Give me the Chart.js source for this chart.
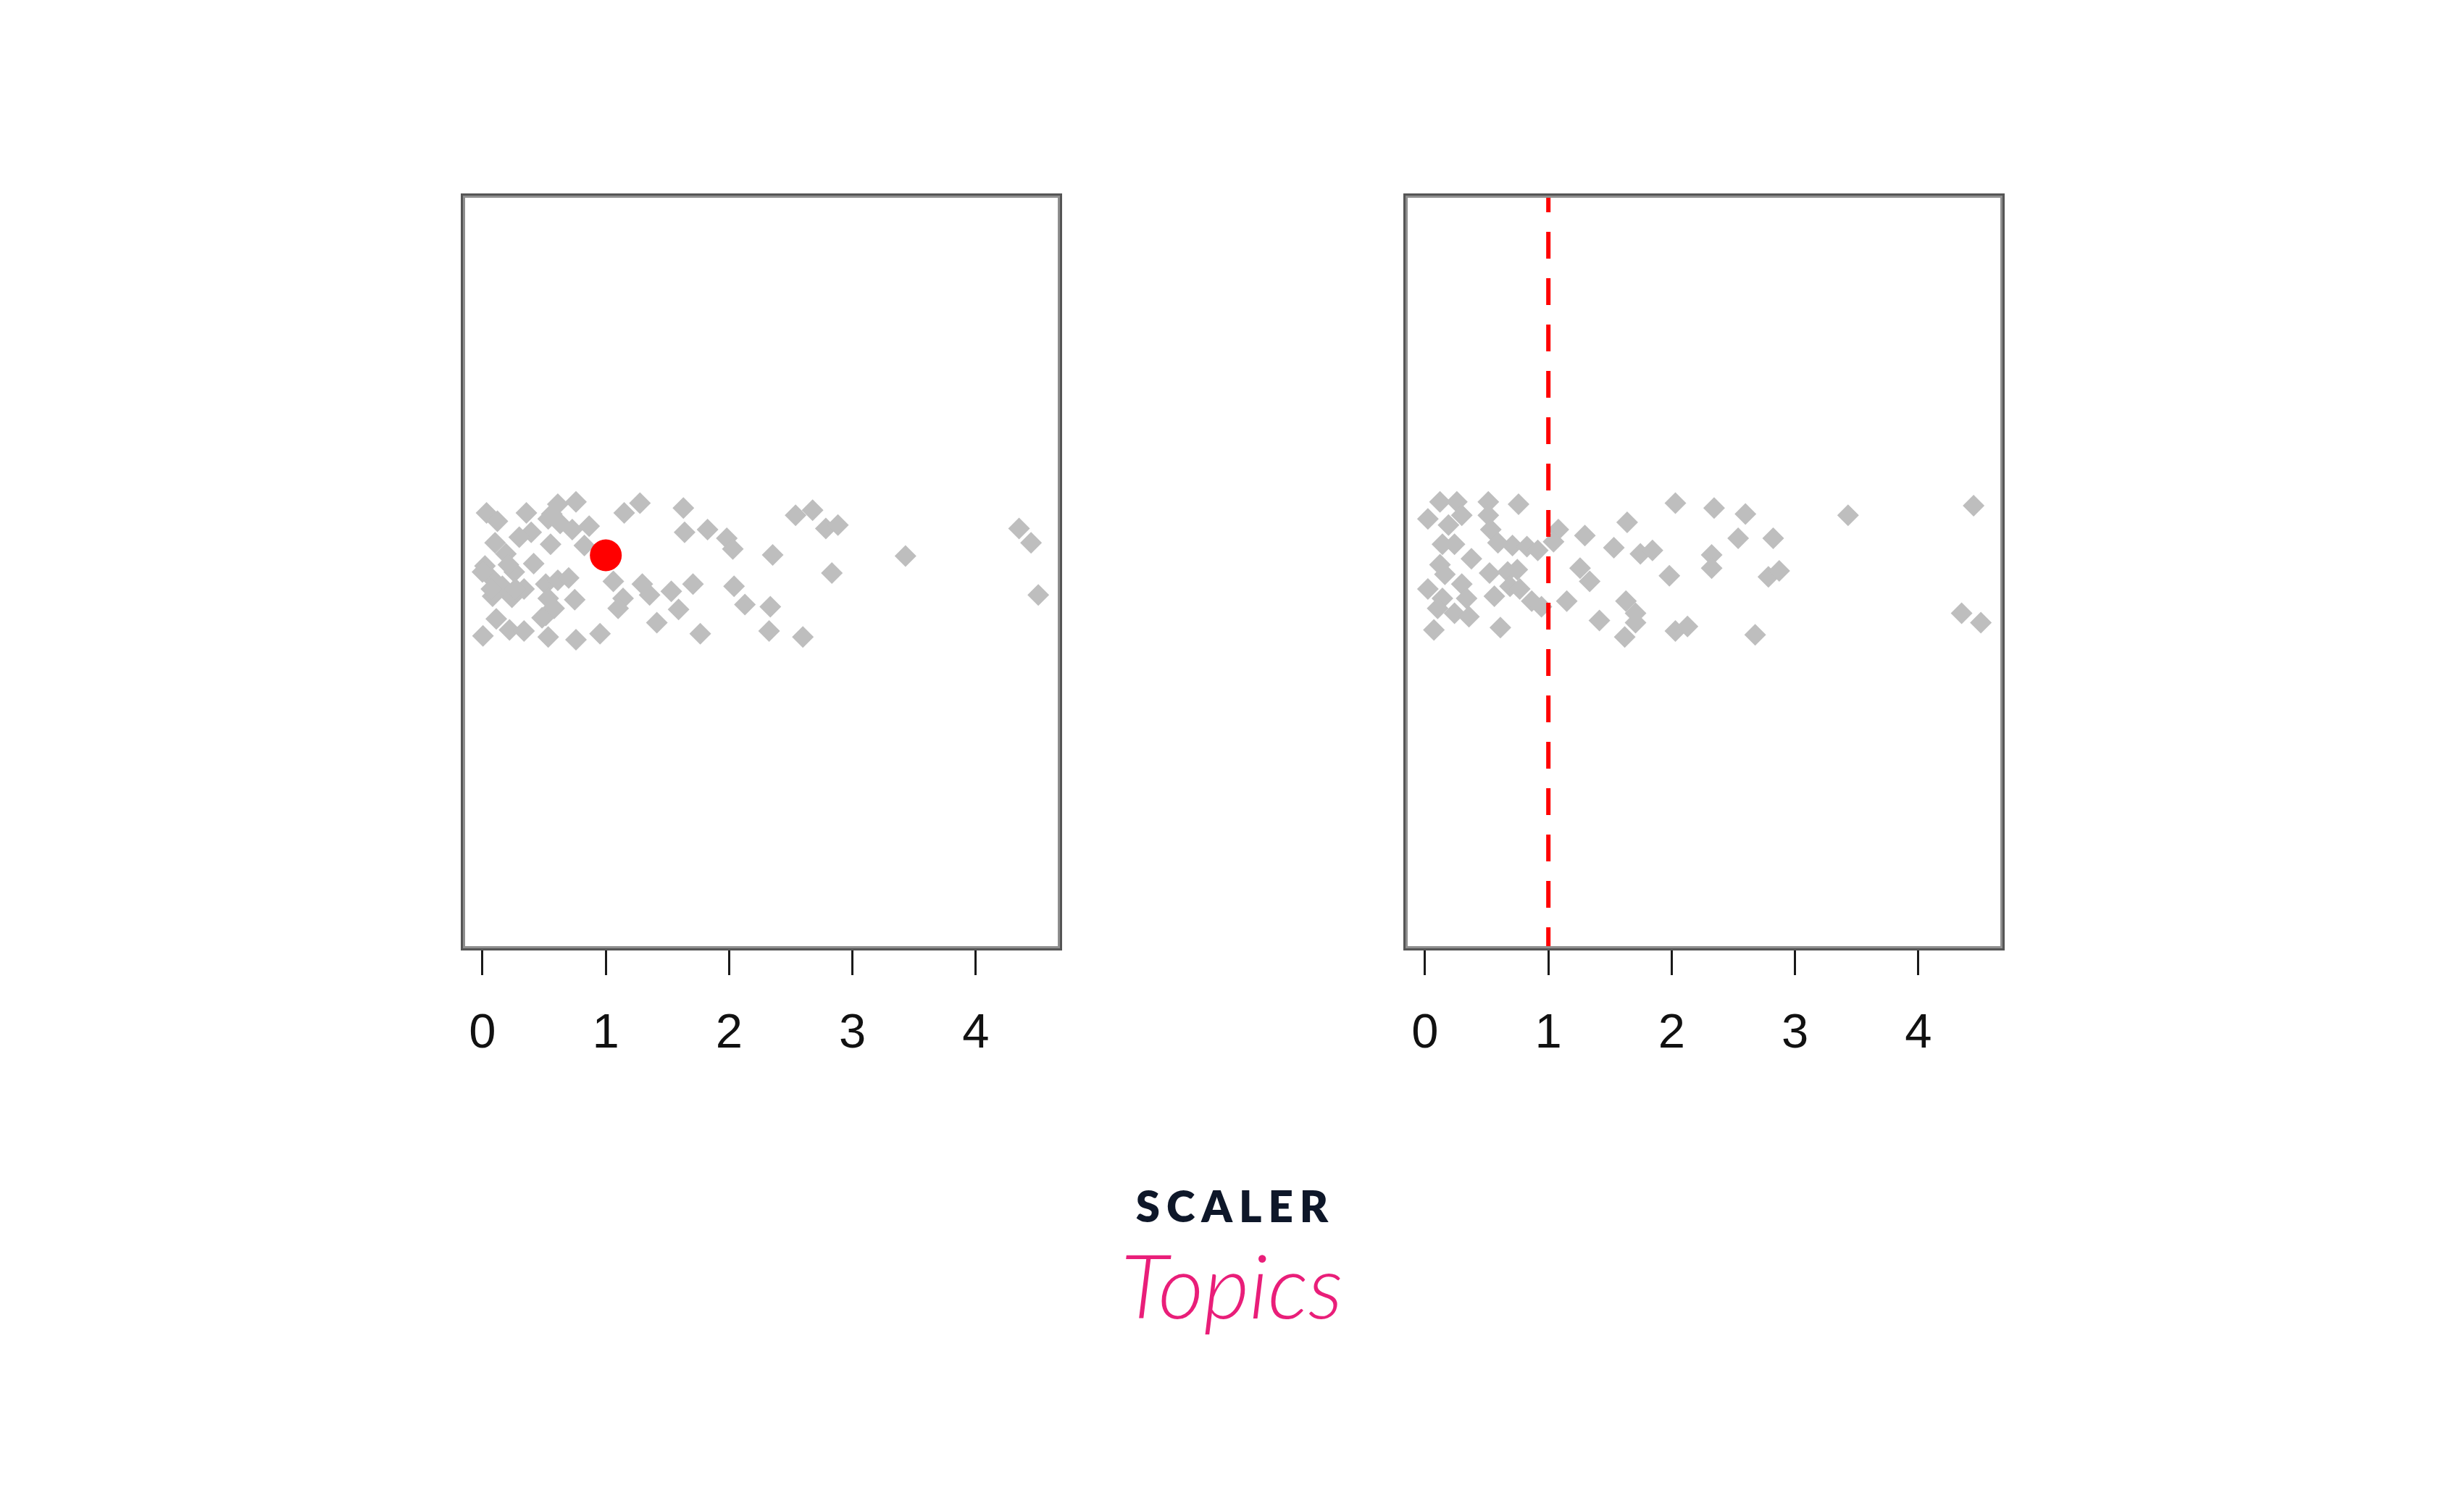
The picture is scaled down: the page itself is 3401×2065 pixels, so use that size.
<!DOCTYPE html>
<html>
<head>
<meta charset="utf-8">
<title>Strip charts with mean</title>
<script src="https://cdn.jsdelivr.net/npm/chart.js@4.4.1/dist/chart.umd.min.js"></script>
<style>
  html, body { margin: 0; padding: 0; background: #fff; }
  #page { position: relative; width: 3401px; height: 2065px; background: #fff; overflow: hidden; }
  canvas { position: absolute; }
  #c-left { left: 536px; top: 167px; }
  #c-right { left: 1837px; top: 167px; }
  .brand { position: absolute; left: 0; width: 3401px; text-align: center; white-space: nowrap; }
  #brand-top { top: 1628px; font: 800 60px 'Lato'; letter-spacing: 9px; padding-left: 9px; box-sizing: border-box; color: #0e1729; }
  #brand-bottom { top: 1700px; font: italic 300 122px 'Lato'; color: #e91e79; }
</style>
</head>
<body>
<div id="page">
  <canvas id="c-left" width="1030" height="1400"></canvas>
  <canvas id="c-right" width="1030" height="1400"></canvas>
  <div class="brand" id="brand-top">SCALER</div>
  <div class="brand" id="brand-bottom">Topics</div>
</div>
<script>
// --- Data ---
const xTicks = [0, 1, 2, 3, 4];
const meanValue = 1.0;

// left panel: jittered strip, red dot at the mean
const leftX = [0.033, 0.121, 0.356, 0.611, 0.758, 0.533, 0.630, 0.728, 0.865, 0.552,
  0.395, 0.298, 0.826, 0.102, 0.190, 0.020, 0.082, 0.161, 0.239, 0.082,
  0.337, 0.258, 0.415, 0.513, 0.611, 0.699, 0.533, 0.513, 0.581, 0.748,
  1.061, 1.140, 1.100, 1.296, 1.355, 1.414, 1.149, 1.277, 0.112, 0.004,
  0.219, 0.337, 0.533, 0.758, 0.953, 1.629, 1.639, 1.825, 1.981, 2.030,
  2.353, 2.539, 2.677, 2.784, 2.882, 2.833, 1.531, 1.707, 1.590, 2.040,
  2.128, 2.334, 1.766, 2.324, 2.598, 3.430, 4.351, 4.448, 4.507,
  0.562, 0.210, 0.000, 0.072, 0.268, 0.483];
const leftY = [1.156, 1.134, 1.156, 1.179, 1.185, 1.140, 1.128, 1.112, 1.121, 1.073,
  1.105, 1.092, 1.070, 1.077, 1.048, 1.016, 0.981, 0.962, 0.933, 0.936,
  0.955, 1.000, 1.022, 0.968, 0.978, 0.984, 0.930, 0.885, 0.904, 0.927,
  0.975, 0.930, 0.904, 0.968, 0.939, 0.866, 1.156, 1.182, 0.876, 0.831,
  0.847, 0.844, 0.828, 0.821, 0.837, 1.169, 1.105, 1.112, 1.089, 1.061,
  1.045, 1.150, 1.163, 1.115, 1.124, 0.997, 0.949, 0.968, 0.901, 0.962,
  0.914, 0.908, 0.837, 0.844, 0.828, 1.042, 1.115, 1.077, 0.939,
  1.153, 1.019, 1.000, 0.955, 0.955, 0.879];
const leftMeanY = 1.044;

// right panel: jittered strip, dashed line at the mean
const rightX = [0.121, 0.258, 0.298, 0.023, 0.190, 0.513, 0.513, 0.533, 0.591, 0.758,
  0.709, 0.826, 0.914, 1.081, 1.042, 1.296, 0.141, 0.239, 0.121, 0.161,
  0.376, 0.523, 0.670, 0.748, 0.689, 0.768, 0.865, 0.944, 0.023, 0.141,
  0.298, 0.337, 0.102, 0.239, 0.356, 0.562, 1.149, 1.257, 1.335, 0.072,
  0.611, 1.414, 2.030, 2.344, 2.598, 1.639, 2.539, 2.823, 1.531, 1.746,
  1.844, 2.324, 2.324, 1.981, 2.784, 2.872, 1.629, 1.707, 1.707, 1.619,
  2.030, 2.128, 2.677, 3.430, 4.448, 4.351, 4.507];
const rightY = [1.185, 1.185, 1.150, 1.140, 1.124, 1.185, 1.150, 1.112, 1.077, 1.179,
  1.070, 1.067, 1.057, 1.112, 1.080, 1.096, 1.073, 1.073, 1.019, 0.994,
  1.035, 0.997, 1.000, 1.006, 0.962, 0.955, 0.923, 0.908, 0.955, 0.930,
  0.968, 0.930, 0.904, 0.891, 0.882, 0.936, 0.923, 1.010, 0.975, 0.847,
  0.853, 0.872, 1.182, 1.169, 1.153, 1.131, 1.089, 1.089, 1.064, 1.048,
  1.057, 1.045, 1.010, 0.990, 0.987, 1.003, 0.923, 0.891, 0.866, 0.828,
  0.844, 0.856, 0.834, 1.150, 1.175, 0.891, 0.866];

const X_MIN = -0.176, X_MAX = 4.70;
const Y_MIN = 0, Y_MAX = 2;

// --- Box round the plot region ---
const boxPlugin = {
  id: 'box',
  afterDatasetsDraw(chart){
    const a = chart.chartArea, c = chart.ctx;
    c.save();
    c.strokeStyle = '#555'; c.lineWidth = 3;
    c.strokeRect(a.left + 1.5, a.top + 1.5, a.width - 3, a.height - 3);
    c.strokeStyle = '#8f8f8f'; c.lineWidth = 3;
    c.strokeRect(a.left + 4.5, a.top + 4.5, a.width - 9, a.height - 9);
    c.restore();
  }
};

function toPts(xs, ys){ return xs.map((x,i)=>({x, y: ys[i]})); }

function makeChart(id, mark){
  return new Chart(document.getElementById(id), {
    type: 'scatter',
    data: { datasets: mark },
    options: {
      responsive: false, animation: false,
      layout: { padding: { left: 100, right: 100, top: 100, bottom: 0 } },
      plugins: { legend: { display: false }, tooltip: { enabled: false } },
      scales: {
        x: {
          type: 'linear', min: X_MIN, max: X_MAX,
          afterBuildTicks: s => { s.ticks = xTicks.map(v=>({value: v})); },
          afterFit: s => { s.height = 255; },
          border: { display: false },
          grid: { drawOnChartArea: false, drawTicks: true, tickLength: 34, tickWidth: 3, tickColor: '#1a1a1a' },
          ticks: { padding: 41, color: '#111', font: { family: 'Liberation Sans', size: 67 }, callback: v => String(v) }
        },
        y: { type: 'linear', min: Y_MIN, max: Y_MAX, display: false }
      }
    },
    plugins: [boxPlugin]
  });
}

const grayPts = {
  pointStyle: 'rectRot', pointRadius: 15, pointBorderWidth: 0,
  backgroundColor: '#bebebe', borderColor: '#bebebe'
};

makeChart('c-left', [
  { data: [{x: meanValue, y: leftMeanY}], pointStyle: 'circle', pointRadius: 22, pointBorderWidth: 0, backgroundColor: '#ff0000' },
  Object.assign({ data: toPts(leftX, leftY) }, grayPts)
]);

makeChart('c-right', [
  { data: [{x: meanValue, y: Y_MAX}, {x: meanValue, y: Y_MIN}], showLine: true, pointRadius: 0,
    borderColor: '#ff0000', borderWidth: 6, borderDash: [37, 27], borderDashOffset: 11 },
  Object.assign({ data: toPts(rightX, rightY) }, grayPts)
]);
</script>
</body>
</html>
